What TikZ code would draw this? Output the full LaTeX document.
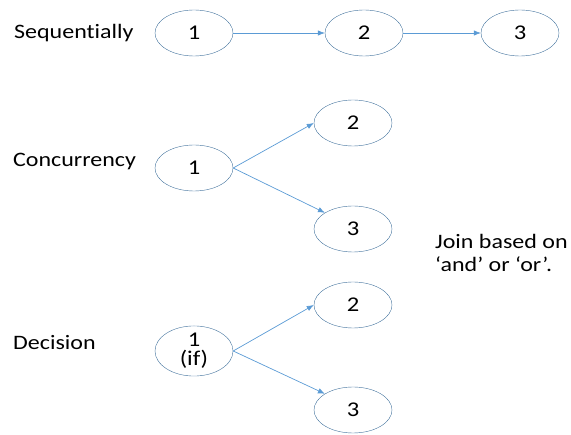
\documentclass[tikz,border=0pt]{standalone}
\usepackage{fontspec}
\setmainfont{Carlito}[FakeStretch=1.17,Ligatures=NoCommon]
\usetikzlibrary{arrows.meta,positioning,shapes.geometric}

\definecolor{stateblue}{HTML}{41719C}
\definecolor{arrowblue}{HTML}{5B9BD5}
\tikzset{
  state/.style={ellipse,draw=stateblue,minimum width=78pt,minimum height=46pt,
    inner sep=0pt,font=\fontsize{21}{22}\selectfont,align=center},
  lbl/.style={anchor=west,inner sep=0pt,font=\fontsize{20.5}{23.5}\selectfont},
  link/.style={->,arrowblue,line width=0.7pt}
}

\begin{document}
\begin{tikzpicture}[x=1pt,y=-1pt,>={Latex[length=7pt,width=5.5pt]}]
  \useasboundingbox (0,0) rectangle (571,435);
  % sequential
  \node[lbl] (seq) at (14,33) {Sequentially};
  \node[state] (s1) at (194,33) {1};
  \node[state] (s2) at (364,33) {2};
  \node[state] (s3) at (520,33) {3};
  \draw[link] (s1.east) -- (s2.west);
  \draw[link] (s2.east) -- (s3.west);

  % concurrency
  \node[lbl] (conc) at (13,162) {Concurrency};
  \node[state] (c1) at (194,168) {1};
  \node[state] (c2) at (353,123) {2};
  \node[state] (c3) at (353,229) {3};
  \draw[link] (c1.east) -- (c2.west);
  \draw[link] (c1.east) -- (c3.150);

  \node[lbl,align=left,anchor=north west] (join) at (435,234) {Join based on\\`and' or `or'.};

  % decision
  \node[lbl] (dec) at (13,343) {Decision};
  \node[state] (d1) at (194,351) {1\\[-3pt](if)};
  \node[state] (d2) at (353,305) {2};
  \node[state] (d3) at (353,410) {3};
  \draw[link] (d1.east) -- (d2.west);
  \draw[link] (d1.east) -- (d3.150);
\end{tikzpicture}
\end{document}
